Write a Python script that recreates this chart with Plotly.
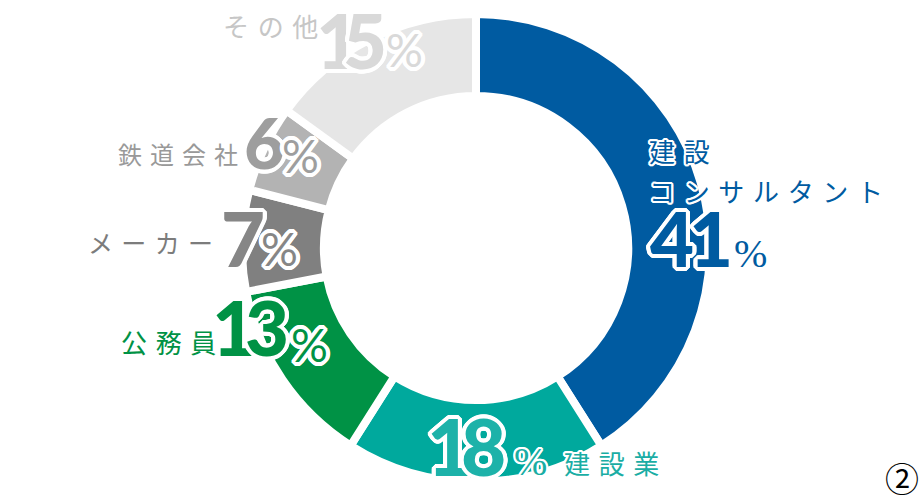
import plotly.graph_objects as go

# data
labels = ["建設コンサルタント", "建設業", "公務員", "メーカー", "鉄道会社", "その他"]
values = [41, 18, 13, 7, 6, 15]
slice_colors = ["#005BA1", "#00A99D", "#009245", "#808080", "#B3B3B3", "#E6E6E6"]
number_colors = ["#005BA1", "#1DB2A9", "#009245", "#868686", "#9E9E9E", "#D9D9D9"]
label_colors = ["#005BA1", "#1AADA4", "#009245", "#7C7C7C", "#999999", "#C6C6C6"]

W, H = 923, 500
cx, cy, R = 476, 248, 234

fig = go.Figure()
fig.add_trace(go.Pie(
    labels=labels, values=values, sort=False, direction="clockwise", rotation=0,
    hole=0.65, textinfo="none", hoverinfo="label+percent",
    marker=dict(colors=slice_colors, line=dict(color="white", width=8)),
    domain=dict(x=[(cx - R) / W, (cx + R) / W], y=[1 - (cy + R) / H, 1 - (cy - R) / H]),
    showlegend=False,
))

# white outline for the big numbers
def outline(n):
    pts = []
    for dx in range(-n, n + 1):
        for dy in range(-n, n + 1):
            if dx * dx + dy * dy <= n * n + 1 and (dx or dy):
                pts.append(f"{dx}px {dy}px 0 #fff")
    return ", ".join(pts)

OUT = outline(4)
OUT_S = outline(2)
SP = "\u2004"
JP = "Noto Sans CJK JP"
NUM = "Lato, Roboto, sans-serif"
SERIF = "Liberation Serif, DejaVu Serif, serif"

def ann(text, px, py, size, color, family=JP, xanchor="center", weight="normal", shadow=None):
    fig.add_annotation(
        text=text, x=px / W, y=1 - py / H, xref="paper", yref="paper",
        xanchor=xanchor, yanchor="middle", showarrow=False,
        font=dict(size=size, color=color, family=family, weight=weight,
                  shadow=shadow or "none"))

# label layout per slice (pixel positions)
layout_info = [
    dict(lines=[("建設", 647, 150), ("コンサルタント", 647, 190)], size=26,
         digits=[672, 711], dy=237, dsize=76, pct=(750, 253), serif=True),
    dict(lines=[("建設業", 562, 462)], size=26,
         digits=[449, 483], dy=446, dsize=78, pct=(530, 461), serif=True),
    dict(lines=[("公務員", 119, 341)], size=26,
         digits=[234, 267], dy=326, dsize=76, pct=(309, 344), serif=False),
    dict(lines=[("メーカー", 86, 242)], size=25,
         digits=[243], dy=237, dsize=76, pct=(279, 248), serif=False),
    dict(lines=[("鉄道会社", 116, 153)], size=24,
         digits=[264], dy=142, dsize=70, pct=(300, 155), serif=False),
    dict(lines=[("その他", 221, 25)], size=26,
         digits=[338, 365], dy=40, dsize=76, pct=(404, 50), serif=False),
]

for i, info in enumerate(layout_info):
    for txt, lx, ly in info["lines"]:
        ann(SP.join(txt), lx, ly, info["size"], label_colors[i], xanchor="left", shadow=OUT_S)
    for d, dxp in zip(str(values[i]), info["digits"]):
        ann(d, dxp, info["dy"], info["dsize"], number_colors[i], family=NUM, weight=900, shadow=OUT)
    px, py = info["pct"]
    if info["serif"]:
        ann("%", px, py, 40, label_colors[i], family=SERIF, shadow=OUT_S)
    else:
        ann("%", px, py, 46, number_colors[i], family=NUM, shadow=OUT)

ann("②", 902, 477, 34, "#000000")

fig.update_layout(width=W, height=H, margin=dict(l=0, r=0, t=0, b=0),
                  paper_bgcolor="white", plot_bgcolor="white")
# drop the default page margin so the chart sits at the window's corner
fig.write_html("out.html", config={"displayModeBar": False},
               post_script="document.body.style.margin='0';")
